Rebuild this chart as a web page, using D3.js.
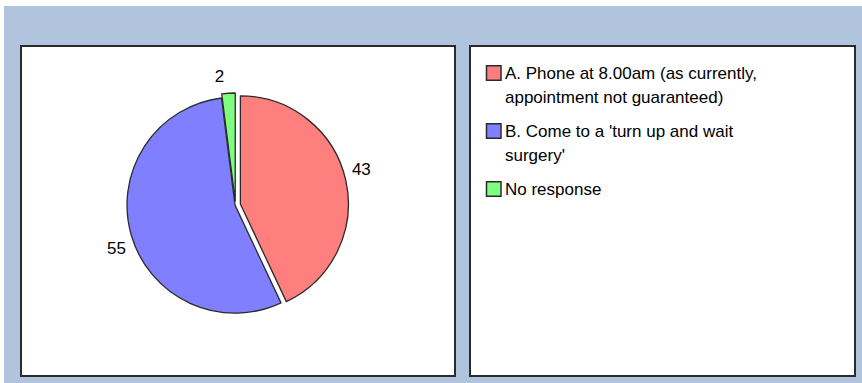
<!DOCTYPE html>
<html>
<head>
<meta charset="utf-8">
<script src="https://cdn.jsdelivr.net/npm/d3@7/dist/d3.min.js"></script>
<style>
  html, body { margin: 0; padding: 0; background: #fff; }
  svg { display: block; }
  text { font-family: "Liberation Sans", Arial, sans-serif; font-size: 17px; fill: #000; }
</style>
</head>
<body>
<svg id="chart" width="862" height="383"></svg>
<script>
// Survey answers: how patients would prefer to get a same-day appointment
const categories = [
  "A. Phone at 8.00am (as currently, appointment not guaranteed)",
  "B. Come to a 'turn up and wait surgery'",
  "No response"
];
const values = [43, 55, 2];
const legendLines = [
  ["A. Phone at 8.00am (as currently,", "appointment not guaranteed)"],
  ["B. Come to a 'turn up and wait", "surgery'"],
  ["No response"]
];
const sliceColors = ["#ff7f7f", "#7f7fff", "#7fff7f"];

const W = 862, H = 383;
const svg = d3.select("#chart");

// page background and the two framed panels
svg.append("rect").attr("x", 4).attr("y", 6).attr("width", W - 4).attr("height", H - 6)
  .attr("fill", "#b0c4de");

const panels = [
  { x: 21, y: 46, w: 434, h: 330 },
  { x: 470, y: 46, w: 385, h: 330 }
];
svg.selectAll("rect.panel").data(panels).join("rect")
  .attr("class", "panel")
  .attr("x", d => d.x).attr("y", d => d.y)
  .attr("width", d => d.w).attr("height", d => d.h)
  .attr("fill", "#fff").attr("stroke", "#2b2b2b").attr("stroke-width", 2);

// pie
const cx = 235.5, cy = 205, radius = 108;
const explode = [5, 0.5, 4];
const labelRadius = 126, labelTurn = -3.5 * Math.PI / 180;

const pie = d3.pie().sort(null).value(d => d)(values);
const arc = d3.arc().innerRadius(0).outerRadius(radius);

const g = svg.append("g").attr("transform", `translate(${cx},${cy})`);

const mid = d => (d.startAngle + d.endAngle) / 2;

g.selectAll("path.slice").data(pie).join("path")
  .attr("class", "slice")
  .attr("d", arc)
  .attr("transform", (d, i) => {
    const a = mid(d);
    return `translate(${explode[i] * Math.sin(a)},${-explode[i] * Math.cos(a)})`;
  })
  .attr("fill", (d, i) => sliceColors[i])
  .attr("stroke", "#2b2b2b").attr("stroke-width", 1.3)
  .attr("stroke-linejoin", "round");

g.selectAll("text.val").data(pie).join("text")
  .attr("class", "val")
  .attr("text-anchor", "middle")
  .attr("dy", "0.35em")
  .attr("x", (d, i) => (labelRadius + explode[i]) * Math.sin(mid(d) + labelTurn))
  .attr("y", (d, i) => -(labelRadius + explode[i]) * Math.cos(mid(d) + labelTurn))
  .text(d => d.data);

// legend
const lg = svg.append("g");
const legX = 486.5, legTextX = 505, firstLine = 73, lineH = 24, itemGap = 10, box = 14.5;
let yPos = firstLine;
legendLines.forEach((lines, i) => {
  const item = lg.append("g").attr("class", "legend-item").datum(categories[i]);
  item.append("rect")
    .attr("x", legX).attr("y", yPos - box / 2)
    .attr("width", box).attr("height", box)
    .attr("fill", sliceColors[i]).attr("stroke", "#2b2b2b").attr("stroke-width", 1.5);
  lines.forEach((ln, j) => {
    item.append("text")
      .attr("x", legTextX).attr("y", yPos + j * lineH)
      .attr("dy", "0.35em")
      .text(ln);
  });
  yPos += lines.length * lineH + itemGap;
});
</script>
</body>
</html>
